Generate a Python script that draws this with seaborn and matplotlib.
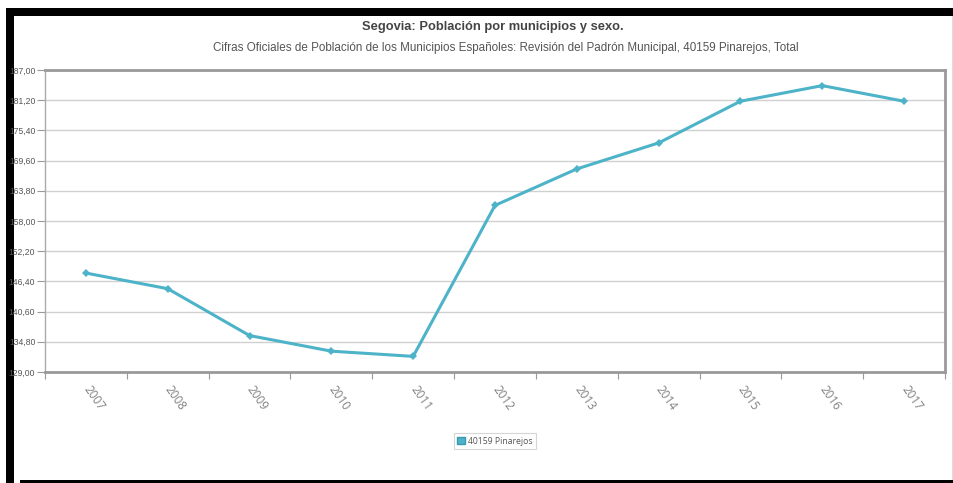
import matplotlib
matplotlib.use("Agg")
import matplotlib.pyplot as plt
import seaborn as sns
import pandas as pd
from matplotlib.patches import Rectangle, Patch
from matplotlib.ticker import FixedLocator, FuncFormatter

YEARS = ["2007", "2008", "2009", "2010", "2011", "2012",
         "2013", "2014", "2015", "2016", "2017"]
POPULATION = [148, 145, 136, 133, 132, 161, 168, 173, 181, 184, 181]
Y_TICKS = [129.0, 134.8, 140.6, 146.4, 152.2, 158.0,
           163.8, 169.6, 175.4, 181.2, 187.0]

SERIES_NAME = "40159 Pinarejos"
TITLE = "Segovia: Población por municipios y sexo."
SUBTITLE = ("Cifras Oficiales de Población de los Municipios Españoles: "
            "Revisión del Padrón Municipal, 40159 Pinarejos, Total")

LINE_COLOR = "#4DB3C8"
NARROW = ["Liberation Sans Narrow", "Liberation Sans", "DejaVu Sans"]
OPEN = ["Open Sans", "DejaVu Sans"]

W, H = 954, 483

sns.set_style("white")

df = pd.DataFrame({"year": YEARS, "value": POPULATION})

fig = plt.figure(figsize=(W / 100, H / 100), dpi=100)


def px_rect(x0, y0, x1, y1, color):
    fig.patches.append(Rectangle((x0 / W, 1 - y1 / H), (x1 - x0) / W, (y1 - y0) / H,
                                 transform=fig.transFigure, color=color,
                                 zorder=-10, linewidth=0))


# black screenshot frame
px_rect(6, 8, W, 16, "black")
px_rect(6, 8, 14, H, "black")
px_rect(20, 480, W, H, "black")
px_rect(952, 16, W, 480, "#dddddd")

ax = fig.add_axes([45 / W, 1 - 372 / H, 900 / W, 302 / H])

sns.lineplot(data=df, x="year", y="value", ax=ax, color=LINE_COLOR,
             linewidth=2.2, marker="D", markersize=4, markeredgewidth=0,
             sort=False)

ax.set_xlim(-0.5, len(YEARS) - 0.5)
ax.set_ylim(Y_TICKS[0], Y_TICKS[-1])
ax.set_xlabel("")
ax.set_ylabel("")

ax.yaxis.set_major_locator(FixedLocator(Y_TICKS))
ax.yaxis.set_major_formatter(FuncFormatter(lambda v, p: f"{v:.2f}".replace(".", ",")))
ax.grid(axis="y", color="#d0d0d0", linewidth=1)
ax.tick_params(axis="y", left=True, length=6, width=0.8, color="#999999",
               labelsize=6.2, labelcolor="#555555", pad=1)
for lab in ax.get_yticklabels():
    lab.set_family(NARROW)

ax.set_xticks(range(len(YEARS)))
ax.set_xticklabels(YEARS)
ax.xaxis.set_minor_locator(FixedLocator([i - 0.5 for i in range(len(YEARS) + 1)]))
ax.tick_params(axis="x", which="major", bottom=False, length=0, pad=11,
               labelsize=8.5, labelcolor="#808080")
ax.tick_params(axis="x", which="minor", bottom=True, length=5, width=0.8,
               color="#999999")
for lab in ax.get_xticklabels():
    lab.set_family(OPEN)
    lab.set_rotation(-55)
    lab.set_rotation_mode("anchor")
    lab.set_ha("left")
    lab.set_va("center")

for side in ["top", "right", "bottom"]:
    ax.spines[side].set_color("#999999")
    ax.spines[side].set_linewidth(2)
ax.spines["left"].set_color("#aaaaaa")
ax.spines["left"].set_linewidth(1)

fig.text(493 / W, 1 - 27 / H, TITLE, ha="center", va="center",
         fontsize=9.3, fontweight="bold", color="#444444", family=NARROW)
fig.text(506 / W, 1 - 48 / H, SUBTITLE, ha="center", va="center",
         fontsize=8.35, color="#555555", family=NARROW)

handle = Patch(facecolor=LINE_COLOR, edgecolor="#3a9ab0", label=SERIES_NAME)
leg = fig.legend(handles=[handle], loc="center", bbox_to_anchor=(495 / W, 1 - 441 / H),
                 frameon=True, fancybox=False, handlelength=0.9,
                 handleheight=0.9, handletextpad=0.4, borderpad=0.4,
                 prop={"family": OPEN, "size": 6.2})
leg.get_frame().set_edgecolor("#cccccc")
leg.get_frame().set_linewidth(0.8)
for t in leg.get_texts():
    t.set_color("#555555")

fig.savefig("out.png", dpi=100, facecolor="white")
